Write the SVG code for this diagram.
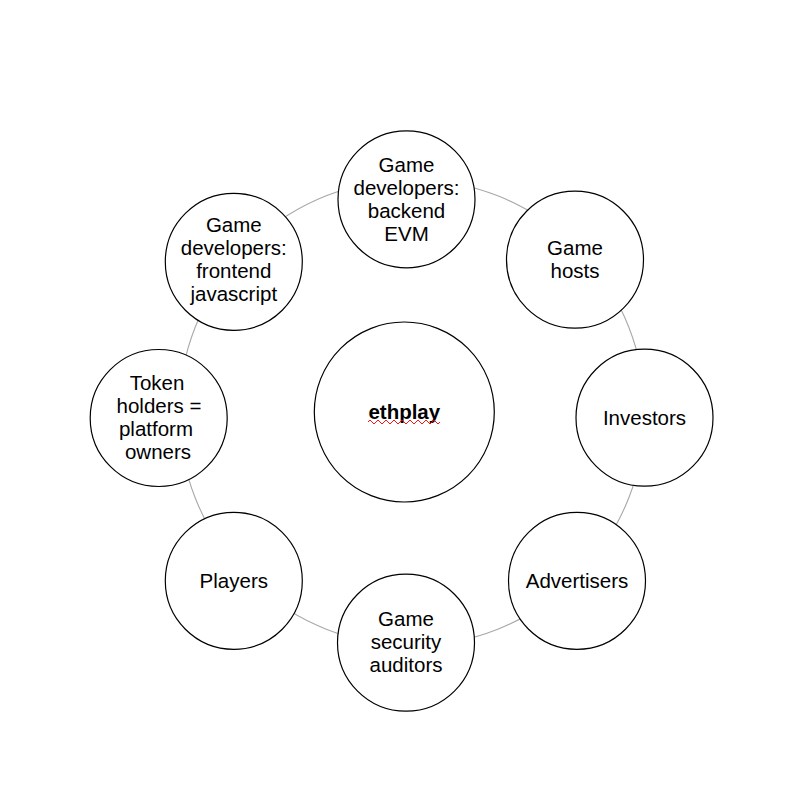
<svg xmlns="http://www.w3.org/2000/svg" width="800" height="800" viewBox="0 0 800 800">
<style>
.node{fill:#fff;stroke:#000;stroke-width:1.2}
.lbl{font-family:"Liberation Sans",Arial,sans-serif;font-size:20.5px;fill:#000;text-anchor:middle}
.ring{fill:none;stroke:#a8a8a8;stroke-width:1.1}
</style>
<rect width="800" height="800" fill="#fff"/>
<g id="connectors">
<circle class="ring" cx="412" cy="412.5" r="233"/>
</g>
<g id="center">
<circle class="node" cx="404.3" cy="412" r="90"/>
<text class="lbl" x="404.3" y="418.5" font-weight="bold">ethplay</text>
<path d="M368,422 l2,-2 l2,2 l2,2 l2,-2 l2,-2 l2,2 l2,2 l2,-2 l2,-2 l2,2 l2,2 l2,-2 l2,-2 l2,2 l2,2 l2,-2 l2,-2 l2,2 l2,2 l2,-2 l2,-2 l2,2 l2,2 l2,-2 l2,-2 l2,2 l2,2 l2,-2 l2,-2 l2,2 l2,2 l2,-2 l2,-2 l2,2 l2,2 l2,-2" fill="none" stroke="#e00" stroke-width="0.9"/>
</g>
<g id="backend">
<circle class="node" cx="406.5" cy="199.3" r="68.5"/>
<text class="lbl" x="406.5" y="171.7">Game</text>
<text class="lbl" x="406.5" y="194.7">developers:</text>
<text class="lbl" x="406.5" y="217.7">backend</text>
<text class="lbl" x="406.5" y="240.7">EVM</text>
</g>
<g id="hosts">
<circle class="node" cx="575" cy="259.7" r="68.5"/>
<text class="lbl" x="575" y="255.1">Game</text>
<text class="lbl" x="575" y="278.1">hosts</text>
</g>
<g id="investors">
<circle class="node" cx="644.5" cy="417.7" r="68.5"/>
<text class="lbl" x="644.5" y="425">Investors</text>
</g>
<g id="advertisers">
<circle class="node" cx="577" cy="580.8" r="68.5"/>
<text class="lbl" x="577" y="588">Advertisers</text>
</g>
<g id="auditors">
<circle class="node" cx="406" cy="642.7" r="68.5"/>
<text class="lbl" x="406" y="625.8">Game</text>
<text class="lbl" x="406" y="648.8">security</text>
<text class="lbl" x="406" y="671.8">auditors</text>
</g>
<g id="players">
<circle class="node" cx="233.8" cy="580.8" r="68.5"/>
<text class="lbl" x="233.8" y="588">Players</text>
</g>
<g id="tokenholders">
<circle class="node" cx="158.7" cy="418" r="68.5"/>
<text class="lbl" x="157" y="390.4">Token</text>
<text class="lbl" x="159" y="413.4">holders =</text>
<text class="lbl" x="156" y="436.4">platform</text>
<text class="lbl" x="158" y="459.4">owners</text>
</g>
<g id="frontend">
<circle class="node" cx="233.8" cy="261.8" r="68.5"/>
<text class="lbl" x="233.8" y="232.2">Game</text>
<text class="lbl" x="233.8" y="255.2">developers:</text>
<text class="lbl" x="233.8" y="278.2">frontend</text>
<text class="lbl" x="233.8" y="301.2">javascript</text>
</g>
</svg>
